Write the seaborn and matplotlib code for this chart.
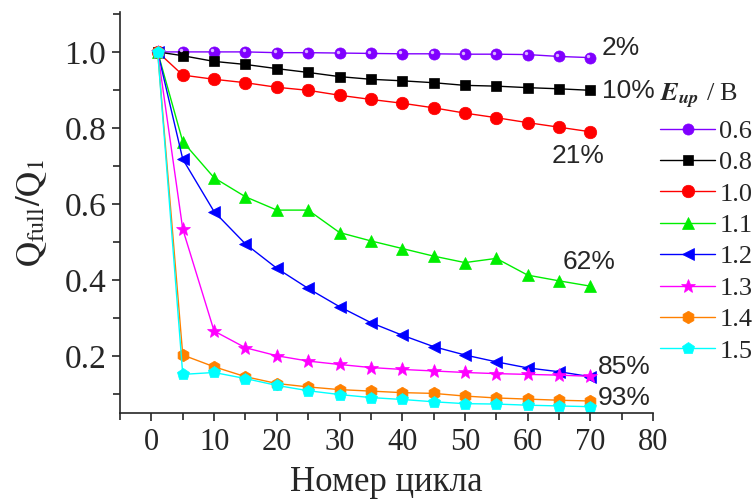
import pandas as pd
import seaborn as sns
import matplotlib.pyplot as plt
from matplotlib.ticker import MultipleLocator

# Data
cycles = [1, 5, 10, 15, 20, 25, 30, 35, 40, 45, 50, 55, 60, 65, 70]
voltages = ["0.6", "0.8", "1.0", "1.1", "1.2", "1.3", "1.4", "1.5"]
q_06 = [1.0, 1.0, 1.0, 1.0, 0.998, 0.998, 0.997, 0.996, 0.995, 0.995, 0.994, 0.994, 0.993, 0.988, 0.985]
q_08 = [1.0, 0.99, 0.975, 0.967, 0.956, 0.946, 0.935, 0.928, 0.924, 0.919, 0.912, 0.91, 0.906, 0.903, 0.899]
q_10 = [1.0, 0.939, 0.928, 0.919, 0.907, 0.899, 0.886, 0.875, 0.865, 0.853, 0.839, 0.827, 0.814, 0.802, 0.79]
q_11 = [1.0, 0.764, 0.669, 0.619, 0.584, 0.584, 0.525, 0.503, 0.483, 0.463, 0.446, 0.457, 0.413, 0.398, 0.384]
q_12 = [1.0, 0.718, 0.58, 0.495, 0.431, 0.378, 0.33, 0.288, 0.255, 0.225, 0.203, 0.185, 0.169, 0.159, 0.146]
q_13 = [1.0, 0.534, 0.266, 0.222, 0.201, 0.187, 0.178, 0.17, 0.165, 0.161, 0.157, 0.154, 0.152, 0.15, 0.147]
q_14 = [1.0, 0.203, 0.172, 0.146, 0.128, 0.119, 0.112, 0.108, 0.104, 0.102, 0.095, 0.09, 0.087, 0.084, 0.082]
q_15 = [1.0, 0.152, 0.157, 0.141, 0.123, 0.109, 0.099, 0.091, 0.086, 0.08, 0.075, 0.074, 0.071, 0.069, 0.067]
losses = ["2%", "10%", "21%", "62%", "85%", "93%"]

series = [q_06, q_08, q_10, q_11, q_12, q_13, q_14, q_15]
rows = []
for v, vals in zip(voltages, series):
    for c, q in zip(cycles, vals):
        rows.append({"cycle": c, "q": q, "E": v})
df = pd.DataFrame(rows)

colors = {"0.6": "#8000ff", "0.8": "#000000", "1.0": "#ff0000", "1.1": "#00ee00",
          "1.2": "#0000ff", "1.3": "#ff00ff", "1.4": "#ff8000", "1.5": "#00ffff"}
markers = {"0.6": "o", "0.8": "s", "1.0": "o", "1.1": "^",
           "1.2": "<", "1.3": "*", "1.4": "h", "1.5": "p"}
sizes = {"0.6": 8, "0.8": 7, "1.0": 9, "1.1": 9, "1.2": 9, "1.3": 10, "1.4": 9, "1.5": 9}

sns.set_style("ticks")
plt.rcParams["font.family"] = ["Liberation Serif", "DejaVu Serif"]
plt.rcParams["mathtext.fontset"] = "stix"

fig = plt.figure(figsize=(7.55, 4.99), dpi=100)
ax = fig.add_axes([0.159, 0.172, 0.706, 0.804])

for v in voltages:
    sub = df[df["E"] == v]
    sns.lineplot(data=sub, x="cycle", y="q", ax=ax, color=colors[v],
                 marker=markers[v], markersize=sizes[v], markeredgewidth=0.5,
                 markeredgecolor=colors[v], linewidth=1.0, label=v)

# highlight on the 0.6 V spheres
sns.scatterplot(x=[c - 0.3 for c in cycles[1:]], y=[q + 0.004 for q in q_06[1:]], ax=ax,
                color="#d9b3ff", s=6, linewidth=0, legend=False, zorder=5)

ax.set_xlim(-5, 80)
ax.set_ylim(0.05, 1.105)
ax.xaxis.set_major_locator(MultipleLocator(10))
ax.xaxis.set_minor_locator(MultipleLocator(5))
ax.yaxis.set_major_locator(MultipleLocator(0.2))
ax.yaxis.set_minor_locator(MultipleLocator(0.1))
ax.tick_params(which="major", length=6, width=1.2)
ax.tick_params(which="minor", length=5, width=1.2)
ax.tick_params(axis="x", labelsize=22, pad=5)
ax.tick_params(axis="y", labelsize=24, pad=4)
for s in ["left", "bottom"]:
    ax.spines[s].set_linewidth(1.2)
sns.despine(ax=ax)

ax.set_xlabel("Номер цикла", fontsize=25, labelpad=6)
ax.set_ylabel(r"$\mathrm{Q}_{\mathrm{full}}/\mathrm{Q}_{1}$", fontsize=25, labelpad=11)

# loss labels
label_pos = [(71.8, 1.01), (71.8, 0.897), (63.8, 0.726), (65.6, 0.447), (71.2, 0.171), (71.2, 0.089)]
for txt, (x, y) in zip(losses, label_pos):
    ax.text(x, y, txt, fontsize=19, family="Liberation Sans", ha="left", va="center",
            clip_on=False)

leg = ax.legend(title=r"$\mathbfit{E}_{\mathbfit{up}}$ / В", loc="upper left",
                bbox_to_anchor=(0.874, 0.835), bbox_transform=fig.transFigure,
                frameon=False, fontsize=19, title_fontsize=19, handlelength=2.1,
                handletextpad=0.15, labelspacing=0.3, borderpad=0, borderaxespad=0)
leg._legend_box.align = "left"

plt.savefig("out.png", dpi=100)
